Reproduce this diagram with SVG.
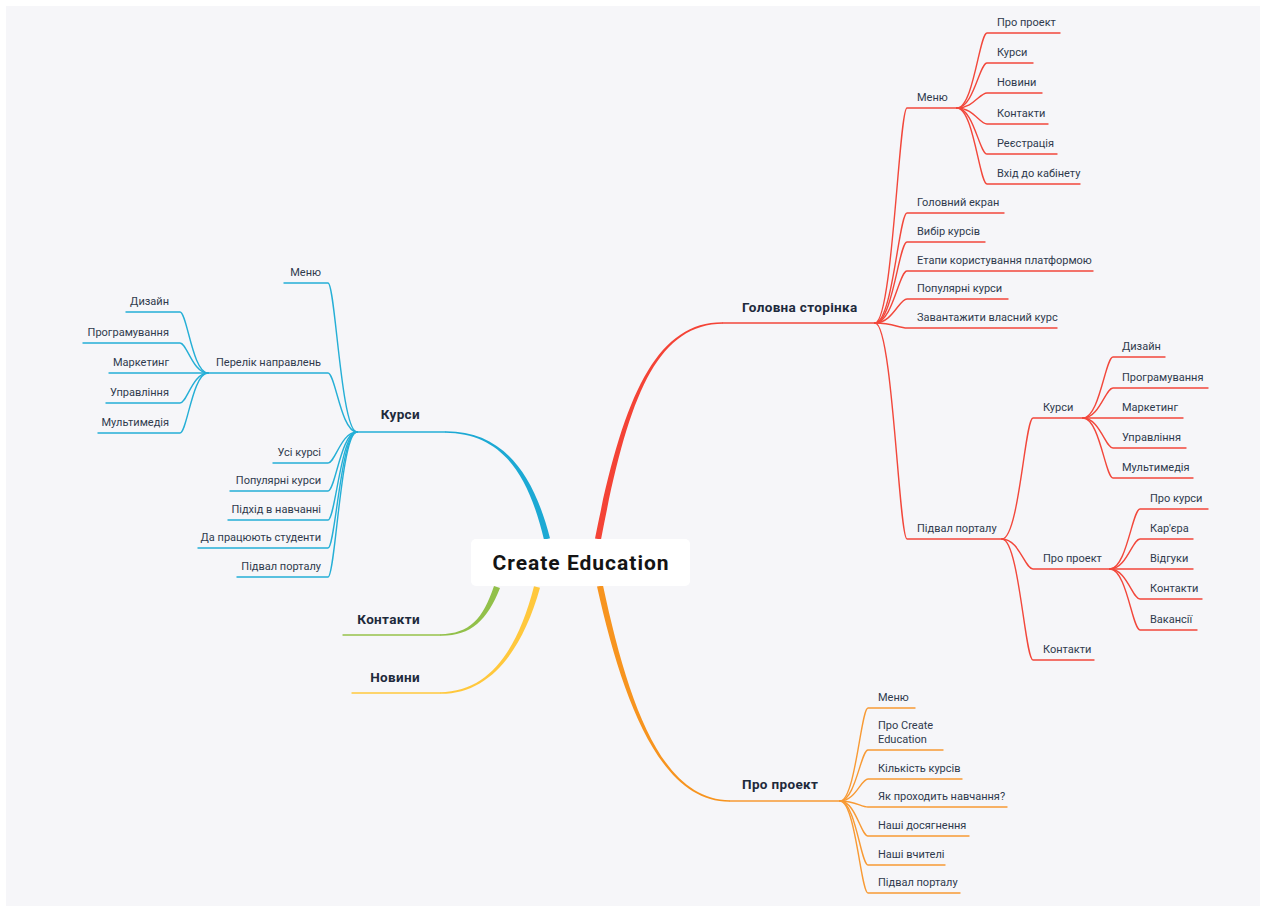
<svg xmlns="http://www.w3.org/2000/svg" width="1266" height="914" viewBox="0 0 1266 914">
<style>
.t{font-family:Roboto,"Liberation Sans",sans-serif;font-size:11px;fill:#2f3a4d}
.m{font-family:Roboto,"Liberation Sans",sans-serif;font-size:13.5px;font-weight:bold;fill:#1e2a3c;letter-spacing:0.35px}
.c{font-family:Roboto,"Liberation Sans",sans-serif;font-size:21px;font-weight:bold;fill:#141414;letter-spacing:1px}
.e{text-anchor:end}
.r{fill:none;stroke:#f2473b;stroke-width:1.4;stroke-linecap:round}
.o{fill:none;stroke:#f89a34;stroke-width:1.4;stroke-linecap:round}
.b{fill:none;stroke:#25afd6;stroke-width:1.4;stroke-linecap:round}
.g{fill:none;stroke:#96c24b;stroke-width:1.4;stroke-linecap:round}
.y{fill:none;stroke:#ffc93e;stroke-width:1.4;stroke-linecap:round}
</style>
<rect x="0" y="0" width="1266" height="914" fill="#ffffff"/>
<rect x="6" y="6" width="1254" height="900" fill="#f6f6f9"/>
<g id="connectors">
  <path fill="#f44336" d="M595,538.5 C622.5,399.5 655,321.6 723,322.25 L723,323.75 C655,324.4 627.5,400.5 601,539.5 Z"/>
  <path fill="#f7941f" d="M603,585.4 C627.5,699.5 660,799.6 730,800.25 L730,801.75 C660,802.4 622.5,700.5 597,586.6 Z"/>
  <path fill="#1ca9d4" d="M550,538.3 C532.5,469.4 500,430.6 445,431.25 L445,432.75 C500,433.4 527.5,470.6 544,539.7 Z"/>
  <path fill="#92c04a" d="M500,588 C487.3,620.8 470,636.4 440,635.75 L440,634.25 C470,633.6 482.7,619.2 494,586 Z"/>
  <path fill="#ffc83d" d="M540,587.8 C522.4,650.6 490,694.4 440,693.75 L440,692.25 C490,691.6 517.6,649.4 534,586.2 Z"/>
  <path class="r" d="M723 323 H875"/>
  <path class="o" d="M730 801 H840"/>
  <path class="b" d="M445 432 H357"/>
  <path class="g" d="M440 635 H343"/>
  <path class="y" d="M440 693 H352"/>
  <path class="r" d="M875 323 C892.6 323 899 108 907 108 H957"/>
  <path class="r" d="M875 323 C892.6 323 899 213 907 213 H1004"/>
  <path class="r" d="M875 323 C892.6 323 899 242 907 242 H985"/>
  <path class="r" d="M875 323 C892.6 323 899 271 907 271 H1093"/>
  <path class="r" d="M875 323 C892.6 323 899 299 907 299 H1008"/>
  <path class="r" d="M875 323 C892.6 323 899 328 907 328 H1057"/>
  <path class="r" d="M875 323 C892.6 323 899 539 907 539 H1002"/>
  <path class="r" d="M957 108 C973.5 108 979.5 33 987 33 H1060"/>
  <path class="r" d="M957 108 C973.5 108 979.5 63 987 63 H1033"/>
  <path class="r" d="M957 108 C973.5 108 979.5 93 987 93 H1042"/>
  <path class="r" d="M957 108 C973.5 108 979.5 124 987 124 H1048"/>
  <path class="r" d="M957 108 C973.5 108 979.5 154 987 154 H1057"/>
  <path class="r" d="M957 108 C973.5 108 979.5 184 987 184 H1080"/>
  <path class="r" d="M1002 539 C1019 539 1025 418 1033 418 H1083"/>
  <path class="r" d="M1002 539 C1019 539 1025 569 1033 569 H1110"/>
  <path class="r" d="M1002 539 C1019 539 1025 660 1033 660 H1094"/>
  <path class="r" d="M1083 418 C1099.5 418 1105.5 357 1113 357 H1165"/>
  <path class="r" d="M1083 418 C1099.5 418 1105.5 388 1113 388 H1208"/>
  <path class="r" d="M1083 418 H1183"/>
  <path class="r" d="M1083 418 C1099.5 418 1105.5 448 1113 448 H1186"/>
  <path class="r" d="M1083 418 C1099.5 418 1105.5 478 1113 478 H1193"/>
  <path class="r" d="M1110 569 C1126.5 569 1132.5 509 1140 509 H1208"/>
  <path class="r" d="M1110 569 C1126.5 569 1132.5 539 1140 539 H1193"/>
  <path class="r" d="M1110 569 H1193"/>
  <path class="r" d="M1110 569 C1126.5 569 1132.5 599 1140 599 H1202"/>
  <path class="r" d="M1110 569 C1126.5 569 1132.5 630 1140 630 H1197"/>
  <path class="o" d="M840 801 C855.4 801 861 708 868 708 H915"/>
  <path class="o" d="M840 801 C855.4 801 861 750 868 750 H943"/>
  <path class="o" d="M840 801 C855.4 801 861 779 868 779 H962"/>
  <path class="o" d="M840 801 C855.4 801 861 807 868 807 H1007"/>
  <path class="o" d="M840 801 C855.4 801 861 836 868 836 H969"/>
  <path class="o" d="M840 801 C855.4 801 861 865 868 865 H945"/>
  <path class="o" d="M840 801 C855.4 801 861 893 868 893 H960"/>
  <path class="b" d="M357 432 C341 432 335.3 283 328 283 H284"/>
  <path class="b" d="M357 432 C341 432 335.3 373 328 373 H208"/>
  <path class="b" d="M357 432 C341 432 335.3 463 328 463 H273"/>
  <path class="b" d="M357 432 C341 432 335.3 491 328 491 H230"/>
  <path class="b" d="M357 432 C341 432 335.3 520 328 520 H228"/>
  <path class="b" d="M357 432 C341 432 335.3 548 328 548 H198"/>
  <path class="b" d="M357 432 C341 432 335.3 577 328 577 H237"/>
  <path class="b" d="M208 373 C192.6 373 187 312 180 312 H126"/>
  <path class="b" d="M208 373 C192.6 373 187 343 180 343 H83"/>
  <path class="b" d="M208 373 H109"/>
  <path class="b" d="M208 373 C192.6 373 187 403 180 403 H106"/>
  <path class="b" d="M208 373 C192.6 373 187 433 180 433 H98"/>
</g>
<g id="center">
  <rect x="471" y="539" width="219" height="47" rx="5" fill="#ffffff"/>
  <text class="c" x="581" y="570" text-anchor="middle">Create Education</text>
</g>
<g id="n-golovna"><text class="m" x="742" y="312">Головна сторінка</text></g>
<g id="n-menu"><text class="t" x="917" y="101">Меню</text></g>
<g id="n-menu-pro"><text class="t" x="997" y="26">Про проект</text></g>
<g id="n-menu-kursy"><text class="t" x="997" y="56">Курси</text></g>
<g id="n-menu-novyny"><text class="t" x="997" y="86">Новини</text></g>
<g id="n-menu-kontakty"><text class="t" x="997" y="117">Контакти</text></g>
<g id="n-menu-reg"><text class="t" x="997" y="147">Реєстрація</text></g>
<g id="n-menu-vhid"><text class="t" x="997" y="177">Вхід до кабінету</text></g>
<g id="n-golovnyi-ekran"><text class="t" x="917" y="206">Головний екран</text></g>
<g id="n-vybir"><text class="t" x="917" y="235">Вибір курсів</text></g>
<g id="n-etapy"><text class="t" x="917" y="264">Етапи користування платформою</text></g>
<g id="n-populyarni"><text class="t" x="917" y="292">Популярні курси</text></g>
<g id="n-zavantazhyty"><text class="t" x="917" y="321">Завантажити власний курс</text></g>
<g id="n-pidval"><text class="t" x="917" y="532">Підвал порталу</text></g>
<g id="n-pidval-kursy"><text class="t" x="1043" y="411">Курси</text></g>
<g id="n-pk-dyzain"><text class="t" x="1122" y="350">Дизайн</text></g>
<g id="n-pk-prog"><text class="t" x="1122" y="381">Програмування</text></g>
<g id="n-pk-market"><text class="t" x="1122" y="411">Маркетинг</text></g>
<g id="n-pk-uprav"><text class="t" x="1122" y="441">Управління</text></g>
<g id="n-pk-multi"><text class="t" x="1122" y="471">Мультимедія</text></g>
<g id="n-pidval-pro"><text class="t" x="1043" y="562">Про проект</text></g>
<g id="n-pp-kursy"><text class="t" x="1150" y="502">Про курси</text></g>
<g id="n-pp-karyera"><text class="t" x="1150" y="532">Кар'єра</text></g>
<g id="n-pp-vidguky"><text class="t" x="1150" y="562">Відгуки</text></g>
<g id="n-pp-kontakty"><text class="t" x="1150" y="592">Контакти</text></g>
<g id="n-pp-vakansii"><text class="t" x="1150" y="623">Вакансії</text></g>
<g id="n-pidval-kontakty"><text class="t" x="1043" y="653">Контакти</text></g>
<g id="n-pro"><text class="m" x="742" y="789">Про проект</text></g>
<g id="n-pro-menu"><text class="t" x="878" y="701">Меню</text></g>
<g id="n-pro-create"><text class="t" x="878" y="729">Про Create<tspan x="878" y="743">Education</tspan></text></g>
<g id="n-pro-kilkist"><text class="t" x="878" y="772">Кількість курсів</text></g>
<g id="n-pro-yak"><text class="t" x="878" y="800">Як проходить навчання?</text></g>
<g id="n-pro-dosyag"><text class="t" x="878" y="829">Наші досягнення</text></g>
<g id="n-pro-vchyteli"><text class="t" x="878" y="858">Наші вчителі</text></g>
<g id="n-pro-pidval"><text class="t" x="878" y="886">Підвал порталу</text></g>
<g id="n-kursy"><text class="m e" x="420" y="419">Курси</text></g>
<g id="n-k-menu"><text class="t e" x="321" y="276">Меню</text></g>
<g id="n-k-perelik"><text class="t e" x="321" y="366">Перелік направлень</text></g>
<g id="n-kp-dyzain"><text class="t e" x="169" y="305">Дизайн</text></g>
<g id="n-kp-prog"><text class="t e" x="169" y="336">Програмування</text></g>
<g id="n-kp-market"><text class="t e" x="169" y="366">Маркетинг</text></g>
<g id="n-kp-uprav"><text class="t e" x="169" y="396">Управління</text></g>
<g id="n-kp-multi"><text class="t e" x="169" y="426">Мультимедія</text></g>
<g id="n-k-usi"><text class="t e" x="321" y="456">Усі курсі</text></g>
<g id="n-k-popul"><text class="t e" x="321" y="484">Популярні курси</text></g>
<g id="n-k-pidhid"><text class="t e" x="321" y="513">Підхід в навчанні</text></g>
<g id="n-k-da"><text class="t e" x="321" y="541">Да працюють студенти</text></g>
<g id="n-k-pidval"><text class="t e" x="321" y="570">Підвал порталу</text></g>
<g id="n-kontakty"><text class="m e" x="420" y="624">Контакти</text></g>
<g id="n-novyny"><text class="m e" x="420" y="682">Новини</text></g>
</svg>
